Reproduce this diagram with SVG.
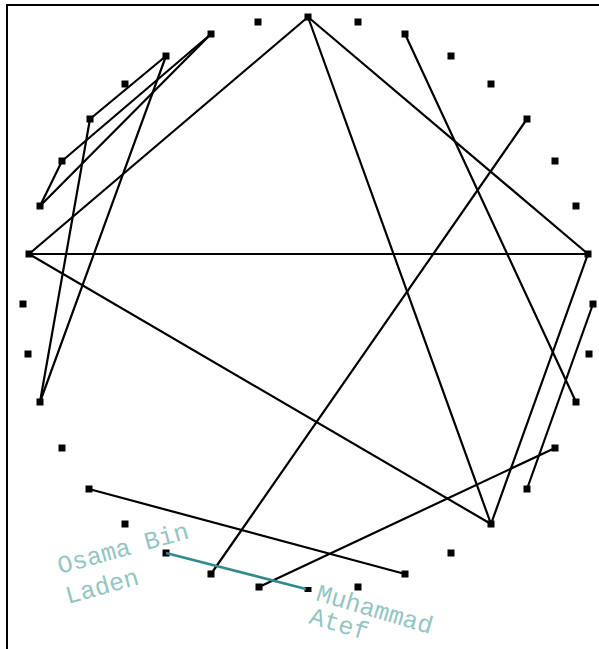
<svg xmlns="http://www.w3.org/2000/svg" width="599" height="649" viewBox="0 0 599 649">
<style>
.e{stroke:#000;stroke-width:2.2;fill:none;stroke-linecap:round}
.t{stroke:#2f8c8c;stroke-width:2.6;fill:none}
.n{fill:#000}
.lb{font-family:"Liberation Mono","Courier New",monospace;font-size:25px;fill:#93c6c2}
</style>
<rect width="599" height="649" fill="#fff"/>
<g id="frame"><path d="M7,649 V5 H599" stroke="#000" stroke-width="2" fill="none"/></g>
<g id="connectors">
<line class="e" x1="308" y1="17" x2="29" y2="254"/>
<line class="e" x1="308" y1="17" x2="588" y2="254"/>
<line class="e" x1="308" y1="17" x2="491" y2="524"/>
<line class="e" x1="405" y1="34" x2="576" y2="402"/>
<line class="e" x1="527" y1="119" x2="211" y2="574"/>
<line class="e" x1="29" y1="254" x2="588" y2="254"/>
<line class="e" x1="29" y1="254" x2="491" y2="524"/>
<line class="e" x1="588" y1="254" x2="491" y2="524"/>
<line class="e" x1="593" y1="304" x2="527" y2="489"/>
<line class="e" x1="555" y1="448" x2="259" y2="587"/>
<line class="e" x1="89" y1="489" x2="405" y2="574"/>
<line class="e" x1="211" y1="34" x2="40" y2="206"/>
<line class="e" x1="211" y1="34" x2="62" y2="161"/>
<line class="e" x1="62" y1="161" x2="40" y2="206"/>
<line class="e" x1="166" y1="56" x2="90" y2="119"/>
<line class="e" x1="90" y1="119" x2="40" y2="402"/>
<line class="e" x1="166" y1="56" x2="40" y2="402"/>
</g>
<g id="nodes">
<g id="n0"><rect class="n" x="304.5" y="13.5" width="7" height="7"/></g>
<g id="n1"><rect class="n" x="354.5" y="18.5" width="7" height="7"/></g>
<g id="n2"><rect class="n" x="401.5" y="30.5" width="7" height="7"/></g>
<g id="n3"><rect class="n" x="447.5" y="52.5" width="7" height="7"/></g>
<g id="n4"><rect class="n" x="487.5" y="80.5" width="7" height="7"/></g>
<g id="n5"><rect class="n" x="523.5" y="115.5" width="7" height="7"/></g>
<g id="n6"><rect class="n" x="551.5" y="157.5" width="7" height="7"/></g>
<g id="n7"><rect class="n" x="572.5" y="202.5" width="7" height="7"/></g>
<g id="n8"><rect class="n" x="584.5" y="250.5" width="7" height="7"/></g>
<g id="n9"><rect class="n" x="589.5" y="300.5" width="7" height="7"/></g>
<g id="n10"><rect class="n" x="585.5" y="350.5" width="7" height="7"/></g>
<g id="n11"><rect class="n" x="572.5" y="398.5" width="7" height="7"/></g>
<g id="n12"><rect class="n" x="551.5" y="444.5" width="7" height="7"/></g>
<g id="n13"><rect class="n" x="523.5" y="485.5" width="7" height="7"/></g>
<g id="n14"><rect class="n" x="487.5" y="520.5" width="7" height="7"/></g>
<g id="n15"><rect class="n" x="447.5" y="549.5" width="7" height="7"/></g>
<g id="n16"><rect class="n" x="401.5" y="570.5" width="7" height="7"/></g>
<g id="n17"><rect class="n" x="354.5" y="583.5" width="7" height="7"/></g>
<g id="n18"><rect class="n" x="304.5" y="587" width="7" height="5"/></g>
<g id="n19"><rect class="n" x="255.5" y="583.5" width="7" height="7"/></g>
<g id="n20"><rect class="n" x="207.5" y="570.5" width="7" height="7"/></g>
<g id="n21"><rect class="n" x="162.5" y="549.5" width="7" height="7"/></g>
<g id="n22"><rect class="n" x="121.5" y="520.5" width="7" height="7"/></g>
<g id="n23"><rect class="n" x="85.5" y="485.5" width="7" height="7"/></g>
<g id="n24"><rect class="n" x="58.5" y="444.5" width="7" height="7"/></g>
<g id="n25"><rect class="n" x="36.5" y="398.5" width="7" height="7"/></g>
<g id="n26"><rect class="n" x="24.5" y="350.5" width="7" height="7"/></g>
<g id="n27"><rect class="n" x="19.5" y="300.5" width="7" height="7"/></g>
<g id="n28"><rect class="n" x="25.5" y="250.5" width="7" height="7"/></g>
<g id="n29"><rect class="n" x="36.5" y="202.5" width="7" height="7"/></g>
<g id="n30"><rect class="n" x="58.5" y="157.5" width="7" height="7"/></g>
<g id="n31"><rect class="n" x="86.5" y="115.5" width="7" height="7"/></g>
<g id="n32"><rect class="n" x="121.5" y="80.5" width="7" height="7"/></g>
<g id="n33"><rect class="n" x="162.5" y="52.5" width="7" height="7"/></g>
<g id="n34"><rect class="n" x="207.5" y="30.5" width="7" height="7"/></g>
<g id="n35"><rect class="n" x="254.5" y="18.5" width="7" height="7"/></g>
</g>
<g id="highlight">
<line class="t" x1="166" y1="553" x2="306" y2="589"/>
</g>
<g id="label-osama">
<text class="lb" transform="translate(60,574) rotate(-15.5)">Osama Bin</text>
<text class="lb" transform="translate(68,604) rotate(-15.5)">Laden</text>
</g>
<g id="label-atef">
<text class="lb" transform="translate(315,600) rotate(16.5)">Muhammad</text>
<text class="lb" transform="translate(308,623) rotate(16.5)">Atef</text>
</g>
</svg>
